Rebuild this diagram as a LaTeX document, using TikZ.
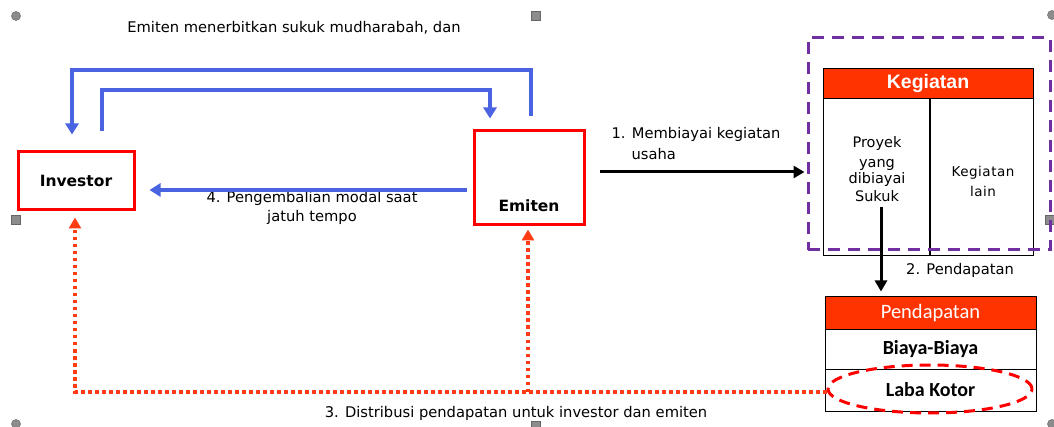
\documentclass[tikz,border=0pt]{standalone}
\usepackage{fontspec}
\setmainfont{DejaVu Sans}
\newfontfamily\headfont{Liberation Sans}
\newfontfamily\cellfont{Carlito}
\usetikzlibrary{arrows.meta,shapes.geometric}

\definecolor{flowblue}{HTML}{4A63E0}
\definecolor{boxred}{HTML}{FF0000}
\definecolor{headred}{HTML}{FF3300}
\definecolor{distred}{HTML}{FF3C14}
\definecolor{frameviolet}{HTML}{7030A0}
\definecolor{handlegray}{HTML}{8C8C8C}

\tikzset{
  txt/.style={font=\fontsize{14.7}{17}\selectfont, inner sep=0pt, align=center},
  partylbl/.style={inner sep=0pt, font=\bfseries\fontsize{15.5}{18}\selectfont},
  party/.style={draw=boxred, line width=3pt, fill=white, inner sep=0pt},
  flow/.style={draw=flowblue, line width=3.5pt, -{Triangle[length=11pt,width=13pt]}},
  blackflow/.style={draw=black, line width=3pt, -{Triangle[length=11pt,width=12pt]}},
  dist/.style={draw=distred, line width=3.5pt, dash pattern=on 3.5pt off 3.5pt,
    -{Triangle[length=11pt,width=12pt]}},
  cell/.style={draw=black, line width=1pt, inner sep=0pt},
  headcell/.style={cell, fill=headred, text=white},
  rowcell/.style={cell, font=\cellfont\bfseries\fontsize{20}{22}\selectfont},
  handle/.style={fill=handlegray, draw=gray!80!black, line width=0.5pt},
}

\begin{document}
\begin{tikzpicture}[x=1pt, y=-1pt]
  \useasboundingbox (0,0) rectangle (1054,427);

  % selection handles round the drawing
  \foreach \hx/\hy in {16/16, 16/424, 1052/15, 1052/424}
    \draw[handle] (\hx,\hy) circle (4.5);
  \foreach \hx/\hy in {536/16, 16/220, 1050/220, 536/426}
    \draw[handle] (\hx-4.5,\hy-4.5) rectangle (\hx+4.5,\hy+4.5);

  % parties
  \node[party, minimum width=116pt, minimum height=58pt] (investor) at (76,181) {};
  \node[partylbl] (investorlbl) at (76,181) {Investor};
  \node[party, minimum width=110pt, minimum height=94pt] (emiten) at (529,178) {};
  \node[partylbl] (emitenlbl) at (529,206) {Emiten};

  % issuance
  \node[txt] (issuelbl) at (294,28) {Emiten menerbitkan sukuk mudharabah, dan};
  \draw[flow] ([xshift=2pt,yshift=13pt]emiten.north) |- (72,70)
    -- ([xshift=-4pt,yshift=16pt]investor.north);
  \draw[flow] ([xshift=26pt,yshift=19pt]investor.north) |- (490,90)
    -- ([xshift=-39pt,yshift=11pt]emiten.north);

  % repayment at maturity
  \node[txt] (repaylbl) at (312,208) {4. Pengembalian modal saat\\[2pt]jatuh tempo};
  \draw[flow] ([xshift=-6pt,yshift=-12pt]emiten.west)
    -- ([xshift=14pt,yshift=-9pt]investor.east);

  % activities table
  \node[headcell, font=\headfont\bfseries\fontsize{19.5}{22}\selectfont,
        minimum width=210pt, minimum height=30pt] (keghead) at (928,84) {Kegiatan};
  \node[cell, minimum width=210pt, minimum height=157pt] (kegbody) at (928,177.5) {};
  \draw[line width=2.5pt] (930,99) -- (930,256);
  \node[txt, font=\fontsize{14.5}{17}\selectfont] (proyek) at (877,169)
    {Proyek\\[3pt]yang\\[-1pt]dibiayai\\[1pt]Sukuk};
  \node[txt, font=\fontsize{13.5}{16}\selectfont] (lain) at (983,181)
    {\addfontfeature{LetterSpace=4}Kegiatan\\[4pt]\addfontfeature{LetterSpace=4}lain};

  \node[draw=frameviolet, line width=3pt, dash pattern=on 12pt off 8pt,
        minimum width=242pt, minimum height=212pt] (frame) at (929,144) {};

  % financing
  \node[txt, align=left] (financelbl) at (696,144)
    {1. Membiayai kegiatan\\[4pt]\hspace*{20pt}usaha};
  \draw[blackflow] ([xshift=14pt,yshift=6pt]emiten.east)
    -- ([xshift=-2pt,yshift=-28pt]frame.west);

  % income table
  \node[headcell, font=\cellfont\fontsize{20.5}{22}\selectfont,
        minimum width=211pt, minimum height=33pt] (pendhead) at (930.5,313.5) {Pendapatan};
  \node[rowcell, minimum width=211pt, minimum height=39pt] (biaya) at (930.5,349.5) {Biaya-Biaya};
  \node[rowcell, minimum width=211pt, minimum height=42pt] (laba) at (930.5,390) {Laba Kotor};
  \node[ellipse, draw=boxred, line width=3pt, dash pattern=on 11pt off 7pt,
        minimum width=204pt, minimum height=48pt] (labaring) at (930,389) {};

  \node[txt] (incomelbl) at (960,270) {2. Pendapatan};
  \draw[blackflow] ([xshift=4pt,yshift=-5pt]proyek.south)
    -- ([xshift=-49.5pt,yshift=5pt]pendhead.north);

  % distribution of income
  \coordinate (split) at (528,392);
  \draw[dist] ([yshift=-3pt]labaring.west) -| ([xshift=-1pt,yshift=-6pt]investor.south);
  \draw[dist] (split) -- ([xshift=-1pt,yshift=-3pt]emiten.south);
  \node[txt] (distlbl) at (516,413) {3. Distribusi pendapatan untuk investor dan emiten};
\end{tikzpicture}
\end{document}
